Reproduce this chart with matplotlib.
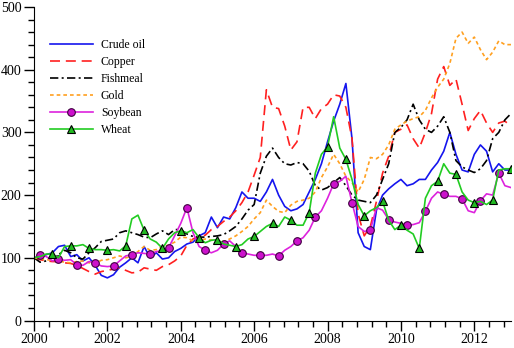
import numpy as np
import matplotlib
matplotlib.use("Agg")
import matplotlib.pyplot as plt
from matplotlib.ticker import MultipleLocator

plt.rcParams['font.family'] = ['Liberation Serif', 'DejaVu Serif']

# bimonthly sample times, 2000.0 .. 2013.0
years = 2000 + np.arange(79) / 6.0

crude_oil = [100, 100, 105, 108, 118, 120,
             102, 105, 95, 100, 88, 72,
             68, 73, 85, 92, 100, 92,
             118, 100, 108, 98, 100, 110,
             115, 122, 125, 135, 140, 165,
             148, 165, 162, 180, 205, 195,
             195, 190, 205, 225, 200, 182,
             175, 178, 185, 205, 225, 250,
             285, 318, 345, 378, 290, 140,
             118, 113, 176, 200, 210, 218,
             225, 215, 218, 225, 225, 240,
             252, 270, 300, 265, 240, 237,
             265, 280, 270, 237, 250, 240,
             240]
copper = [100, 97, 95, 94, 94, 92,
          91, 88, 83, 78, 74, 78,
          80, 82, 84, 80, 76, 77,
          84, 82, 80, 86, 89, 95,
          103, 120, 130, 135, 136, 145,
          150, 158, 165, 175, 188, 205,
          232, 260, 368, 340, 338, 310,
          272, 285, 340, 340, 322, 338,
          345, 360, 358, 340, 290, 170,
          135, 150, 190, 235, 262, 300,
          305, 312, 290, 275, 300, 330,
          385, 405, 375, 385, 345, 303,
          322, 335, 315, 300, 315, 318,
          310]
fishmeal = [100, 93, 95, 100, 105, 112,
            108, 100, 98, 108, 116, 126,
            128, 130, 140, 143, 140, 137,
            133, 132, 138, 143, 137, 145,
            145, 138, 134, 133, 133, 134,
            135, 137, 143, 150, 162, 176,
            185, 235, 262, 275, 260, 250,
            248, 252, 250, 238, 215, 208,
            212, 220, 228, 215, 200, 192,
            190, 188, 200, 225, 250, 300,
            308, 320, 345, 320, 305, 300,
            310, 325, 300, 255, 245, 240,
            236, 242, 255, 290, 300, 320,
            330]
gold = [100, 98, 97, 96, 95, 93,
        92, 94, 95, 92, 91, 96,
        97, 100, 103, 100, 102, 110,
        118, 112, 113, 118, 120, 125,
        133, 132, 127, 128, 130, 128,
        127, 126, 130, 135, 142, 150,
        162, 172, 192, 182, 174, 172,
        184, 190, 192, 195, 205, 228,
        245, 265, 250, 230, 220, 205,
        225, 260, 258, 265, 280, 305,
        312, 318, 322, 325, 335, 355,
        372, 385, 410, 450, 460, 442,
        452, 432, 416, 428, 446, 440,
        440]
soybean = [100, 105, 102, 95, 98, 96,
           97, 89, 88, 94, 92, 87,
           86, 87, 95, 103, 105, 108,
           107, 106, 110, 111, 116, 135,
           155, 180, 140, 118, 112, 108,
           112, 122, 127, 118, 108, 106,
           104, 104, 104, 106, 103, 112,
           118, 127, 132, 144, 165, 175,
           195, 218, 222, 230, 188, 150,
           142, 144, 180, 176, 161, 157,
           155, 152, 153, 156, 174, 195,
           205, 201, 198, 198, 194, 175,
           172, 191, 202, 200, 235, 215,
           212]
wheat = [100, 102, 106, 106, 100, 118,
         119, 119, 121, 115, 113, 113,
         112, 113, 111, 119, 162, 168,
         144, 130, 125, 115, 130, 140,
         143, 140, 145, 132, 124, 128,
         129, 122, 120, 118, 121, 130,
         134, 142, 150, 155, 150, 165,
         160, 152, 152, 172, 235, 265,
         277, 325, 275, 257, 225, 185,
         167, 175, 180, 190, 160, 145,
         152, 144, 138, 115, 195, 215,
         222, 250, 235, 233, 205, 192,
         188, 190, 185, 192, 240, 242,
         242]

labels = ["Crude oil", "Copper", "Fishmeal", "Gold", "Soybean", "Wheat"]

fig = plt.figure(figsize=(5.14, 3.48), dpi=100)
ax = fig.add_axes([34 / 514, 1 - 320.5 / 348, (511 - 34) / 514, (320.5 - 7) / 348])

lw = 1.2
ax.plot(years, crude_oil, color='#1515ee', lw=lw, label=labels[0])
ax.plot(years, copper, color='#ff2020', lw=lw, linestyle=(0, (6, 3.5)), label=labels[1])
ax.plot(years, fishmeal, color='black', lw=lw, linestyle=(0, (5, 2, 1.2, 2)), label=labels[2])
ax.plot(years, gold, color='#ffa020', lw=lw, linestyle=(0, (2.2, 1.8)), label=labels[3])
ax.plot(years, soybean, color='#dd22dd', lw=lw, marker='o', markersize=5.5,
        markerfacecolor='#cc11cc', markeredgecolor='#400040', markeredgewidth=0.8,
        markevery=(1, 3), label=labels[4])
ax.plot(years, wheat, color='#22cc22', lw=lw, marker='^', markersize=5.5,
        markerfacecolor='#22bb22', markeredgecolor='black', markeredgewidth=0.8,
        markevery=(3, 3), label=labels[5])

ax.set_xlim(2000, 2013)
ax.set_ylim(0, 500)
ax.xaxis.set_major_locator(MultipleLocator(2))
ax.xaxis.set_minor_locator(MultipleLocator(0.4))
ax.yaxis.set_major_locator(MultipleLocator(100))
ax.yaxis.set_minor_locator(MultipleLocator(20))
ax.spines['top'].set_visible(False)
ax.spines['right'].set_visible(False)
ax.tick_params(which='major', direction='out', length=7, width=1, labelsize=10, pad=2)
ax.tick_params(which='minor', direction='out', length=4, width=1)

leg = ax.legend(loc='upper left', bbox_to_anchor=(50 / 514, 1 - 39 / 348),
                bbox_transform=fig.transFigure, frameon=False, fontsize=8.5,
                handlelength=3.6, handletextpad=0.7, labelspacing=0.42,
                borderpad=0, borderaxespad=0)

fig.savefig("out.png", dpi=100)
